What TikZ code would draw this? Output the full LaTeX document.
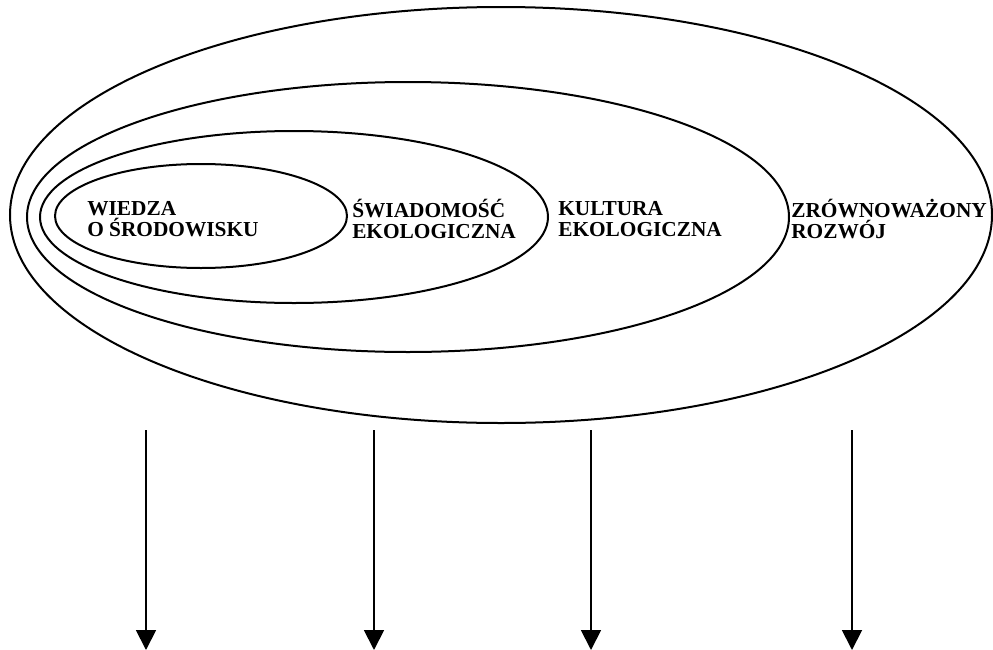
\documentclass[tikz,border=0pt]{standalone}
\usepackage{fontspec}
\setmainfont{Liberation Serif}
\usetikzlibrary{arrows.meta}
\begin{document}
\begin{tikzpicture}[x=0.75pt, y=-0.75pt,
  ring/.style={draw=black, line width=1.5pt},
  label/.style={anchor=west, inner sep=0pt, align=left, font=\fontsize{16}{15.5}\selectfont\bfseries},
  arr/.style={line width=1.4pt, -{Triangle[length=15pt, width=15pt]}}]
\useasboundingbox (0,0) rectangle (993,650);
% nested ellipses
\draw [ring] (501,215) ellipse [x radius=491, y radius=208];
\draw [ring] (408,217) ellipse [x radius=381, y radius=135];
\draw [ring] (294,217) ellipse [x radius=254, y radius=86];
\draw [ring] (201,216) ellipse [x radius=146, y radius=52];
% labels
\node [label] (wiedza) at (87,219) {WIEDZA\\O ŚRODOWISKU};
\node [label] (swiad) at (352,219) {ŚWIADOMOŚĆ\\EKOLOGICZNA};
\node [label] (kult) at (558,219) {KULTURA\\EKOLOGICZNA};
\node [label] (rozw) at (791,219) {ZRÓWNOWAŻONY\\ROZWÓJ};
% arrows
\foreach \i/\x in {1/146, 2/374, 3/591, 4/852} {
  \coordinate (top\i) at (\x,430);
  \coordinate (bot\i) at (\x,650);
  \draw [arr] (top\i) -- (bot\i);
}
\end{tikzpicture}
\end{document}
